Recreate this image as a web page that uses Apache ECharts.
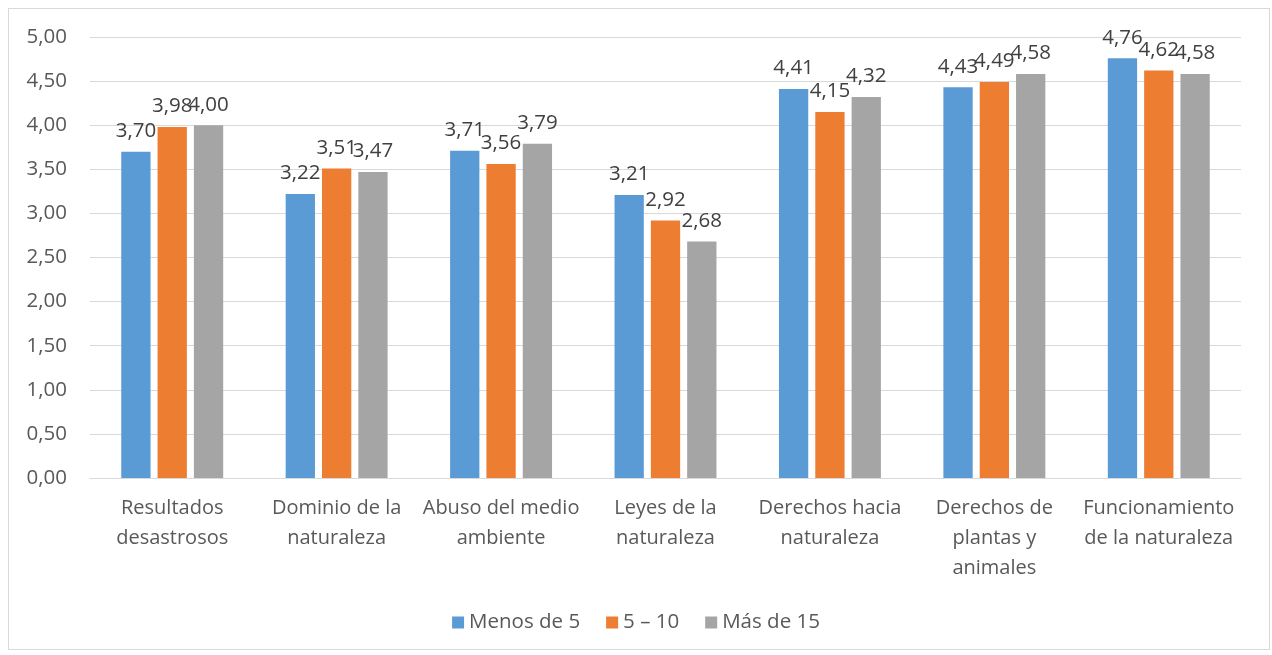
<!DOCTYPE html>
<html>
<head>
<meta charset="utf-8">
<script src="https://cdn.jsdelivr.net/npm/echarts@6/dist/echarts.min.js"></script>
<style>
  html, body { margin: 0; padding: 0; background: #fff; }
  #frame {
    position: absolute; left: 8px; top: 8px; width: 1262px; height: 642px;
    border: 1px solid #d9d9d9; box-sizing: border-box;
  }
  #chart { position: absolute; left: 0; top: 0; width: 1272px; height: 655px; }
</style>
</head>
<body>
<div id="frame"></div>
<div id="chart"></div>
<script>
const categories = [
  'Resultados\ndesastrosos',
  'Dominio de la\nnaturaleza',
  'Abuso del medio\nambiente',
  'Leyes de la\nnaturaleza',
  'Derechos hacia\nnaturaleza',
  'Derechos de\nplantas y\nanimales',
  'Funcionamiento\nde la naturaleza'
]
const seriesNames = ['Menos de 5', '5 – 10', 'Más de 15']
const menosDe5 = [3.70, 3.22, 3.71, 3.21, 4.41, 4.43, 4.76]
const entre5y10 = [3.98, 3.51, 3.56, 2.92, 4.15, 4.49, 4.62]
const masDe15 = [4.00, 3.47, 3.79, 2.68, 4.32, 4.58, 4.58]
const colors = ['#5B9BD5', '#ED7D31', '#A5A5A5']

const fmt = v => v.toFixed(2).replace('.', ',')
const font = '"Open Sans", Lato, sans-serif'

const chart = echarts.init(document.getElementById('chart'))

const makeSeries = (name, data, i) => ({
  name: name,
  type: 'bar',
  data: data,
  barGap: '24%',
  barCategoryGap: '38%',
  itemStyle: { color: colors[i] },
  label: {
    show: true,
    position: 'top',
    distance: 10,
    color: '#404040',
    fontSize: 20.5,
    fontFamily: font,
    formatter: p => fmt(p.value)
  }
})

chart.setOption({
  animation: false,
  textStyle: { fontFamily: font },
  grid: { left: 90, right: 31, top: 37, bottom: 177 },
  legend: {
    bottom: 17,
    left: 'center',
    itemWidth: 12,
    itemHeight: 12,
    itemGap: 26,
    icon: 'rect',
    textStyle: { color: '#595959', fontSize: 20.5, fontFamily: font },
    data: seriesNames
  },
  xAxis: {
    type: 'category',
    data: categories,
    axisLine: { lineStyle: { color: '#d9d9d9' } },
    axisTick: { show: false },
    axisLabel: {
      interval: 0,
      color: '#595959',
      fontSize: 20,
      fontFamily: font,
      lineHeight: 30,
      margin: 15
    }
  },
  yAxis: {
    type: 'value',
    min: 0,
    max: 5,
    interval: 0.5,
    axisLine: { show: false },
    axisTick: { show: false },
    splitLine: { lineStyle: { color: '#d9d9d9' } },
    axisLabel: {
      color: '#595959',
      fontSize: 20.5,
      fontFamily: font,
      margin: 23,
      formatter: v => fmt(v)
    }
  },
  series: [
    makeSeries(seriesNames[0], menosDe5, 0),
    makeSeries(seriesNames[1], entre5y10, 1),
    makeSeries(seriesNames[2], masDe15, 2)
  ]
})
</script>
</body>
</html>
